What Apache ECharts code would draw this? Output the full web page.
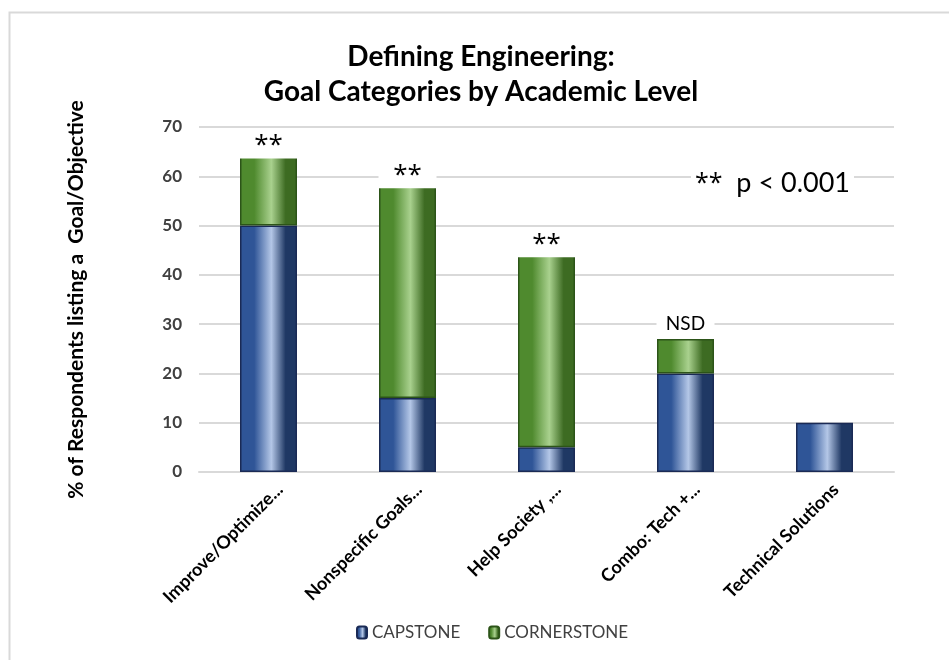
<!DOCTYPE html>
<html>
<head>
<meta charset="utf-8">
<script src="https://cdn.jsdelivr.net/npm/echarts@6/dist/echarts.min.js"></script>
<style>
  html, body { margin: 0; padding: 0; background: #fff; }
  #chart { width: 949px; height: 660px; }
</style>
</head>
<body>
<div id="chart"></div>
<script>
// Goal categories and the share of respondents per academic level
const categories = [
  'Improve/Optimize...',
  'Nonspecific Goals...',
  'Help Society ,...',
  'Combo: Tech +...',
  'Technical Solutions'
];
const capstone = [50, 15, 5, 20, 10];
const cornerstone = [14, 43, 39, 7, 0];
const significance = ['**', '**', '**', 'NSD', ''];
const yTicks = [0, 10, 20, 30, 40, 50, 60, 70];

const FONT = 'Lato, "Noto Sans", sans-serif';
const STAR_FONT = '"Open Sans", "Noto Sans", sans-serif';

function barGradient(left, light, right) {
  return new echarts.graphic.LinearGradient(0, 0, 1, 0, [
    { offset: 0, color: left },
    { offset: 0.25, color: left },
    { offset: 0.55, color: light },
    { offset: 0.8, color: right },
    { offset: 1, color: right }
  ]);
}

const blueFill = barGradient('#2f5597', '#b4c7e7', '#1f3864');
const greenFill = barGradient('#4f8a2e', '#a9d18e', '#3d6b22');

const chart = echarts.init(document.getElementById('chart'), null, { renderer: 'canvas' });

chart.setOption({
  animation: false,
  backgroundColor: '#ffffff',
  title: {
    text: 'Defining Engineering:\nGoal Categories by Academic Level',
    left: 476,
    top: 34,
    textAlign: 'center',
    textStyle: {
      fontFamily: FONT,
      fontSize: 28,
      fontWeight: 'bold',
      color: '#000',
      lineHeight: 35
    }
  },
  graphic: [
    {
      type: 'rect',
      shape: { x: 9.5, y: 12.5, width: 980, height: 700 },
      style: { fill: 'none', stroke: '#d9d9d9', lineWidth: 2 },
      silent: true,
      z: 0
    },
    {
      type: 'text',
      left: 691,
      top: 168,
      style: {
        text: '{s|**}  p < 0.001',
        fontFamily: FONT,
        fontSize: 27,
        fill: '#000',
        backgroundColor: '#fff',
        padding: [2, 4],
        rich: {
          s: { fontFamily: STAR_FONT, fontSize: 25, fill: '#000' }
        }
      },
      z: 10
    }
  ],
  legend: {
    bottom: 14,
    left: 351,
    itemWidth: 10,
    itemHeight: 12,
    itemGap: 28,
    textStyle: { fontFamily: FONT, fontSize: 17, color: '#404040' },
    data: ['CAPSTONE', 'CORNERSTONE']
  },
  grid: {
    left: 199,
    right: 55,
    top: 127,
    bottom: 188,
    containLabel: false
  },
  xAxis: {
    type: 'category',
    data: categories,
    axisLine: { lineStyle: { color: '#d9d9d9', width: 2 } },
    axisTick: { show: false },
    axisLabel: {
      interval: 0,
      rotate: 45,
      margin: 26,
      fontFamily: FONT,
      fontSize: 18,
      fontWeight: 'bold',
      color: '#000',
      padding: [0, -16, 0, 0]
    }
  },
  yAxis: {
    type: 'value',
    min: yTicks[0],
    max: yTicks[yTicks.length - 1],
    interval: 10,
    name: '% of Respondents listing a  Goal/Objective',
    nameLocation: 'middle',
    nameGap: 112,
    nameTextStyle: {
      fontFamily: FONT,
      fontSize: 21,
      fontWeight: 'bold',
      color: '#000'
    },
    axisLine: { show: false },
    axisTick: { show: false },
    axisLabel: {
      margin: 17,
      fontFamily: FONT,
      fontSize: 17,
      fontWeight: 'bold',
      color: '#404040'
    },
    splitLine: { lineStyle: { color: '#d9d9d9', width: 2 } }
  },
  series: [
    {
      name: 'CAPSTONE',
      type: 'bar',
      stack: 'level',
      barWidth: 57,
      data: capstone,
      itemStyle: { color: blueFill, borderColor: '#1a2a55', borderWidth: 1.5 }
    },
    {
      name: 'CORNERSTONE',
      type: 'bar',
      stack: 'level',
      barWidth: 57,
      data: cornerstone.map((v, i) => {
        const isNsd = significance[i] === 'NSD';
        return {
          value: v,
          itemStyle: v === 0 ? { borderWidth: 0 } : undefined,
          label: {
            show: significance[i] !== '',
            formatter: significance[i],
            fontFamily: isNsd ? FONT : STAR_FONT,
            fontSize: isNsd ? 19 : 26,
            distance: isNsd ? 6 : -2
          }
        };
      }),
      itemStyle: { color: greenFill, borderColor: '#2c5418', borderWidth: 1.5 },
      label: {
        position: 'top',
        color: '#000',
        backgroundColor: '#fff',
        width: 58,
        align: 'center',
        padding: [2, 0, 0, 0]
      }
    }
  ]
});
</script>
</body>
</html>
